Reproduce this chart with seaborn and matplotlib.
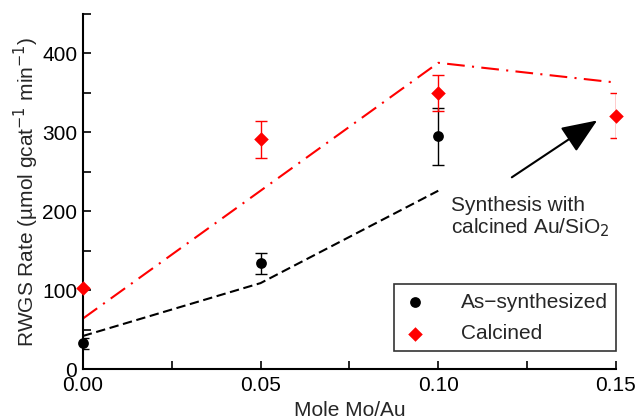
import matplotlib
matplotlib.use("Agg")
import matplotlib.pyplot as plt
import seaborn as sns
import pandas as pd
import numpy as np

# data
mole = [0.00, 0.05, 0.10]
as_synth = [33, 134, 295]
as_synth_err = [7, 13.5, 36]
mole_calc = [0.00, 0.05, 0.10, 0.15]
calcined = [103, 291, 350, 321]
calcined_err = [0, 23, 23, 28.5]
fit_as_x = [0.00, 0.05, 0.10]
fit_as_y = [42, 109, 226]
fit_calc_x = [0.00, 0.05, 0.10, 0.15]
fit_calc_y = [64, 226, 388, 363]

sns.set_style("ticks")
plt.rcParams['font.family'] = ['Liberation Sans', 'DejaVu Sans']

fig = plt.figure(figsize=(6.37, 4.2), dpi=100)
ax = fig.add_axes([0.130, 0.121, 0.837, 0.846])

sns.lineplot(x=fit_as_x, y=fit_as_y, ax=ax, color='black', lw=1.5,
             linestyle=(0, (4.5, 2.2)), legend=False)
sns.lineplot(x=fit_calc_x, y=fit_calc_y, ax=ax, color='red', lw=1.5,
             linestyle=(0, (8.5, 3.5, 1, 3.5)), legend=False)

ax.errorbar(mole, as_synth, yerr=as_synth_err, fmt='none', ecolor='black',
            elinewidth=1, capsize=4, capthick=1, zorder=3)
ax.errorbar(mole_calc, calcined, yerr=calcined_err, fmt='none', ecolor='red',
            elinewidth=1, capsize=4, capthick=1, zorder=3)

df1 = pd.DataFrame({'x': mole, 'y': as_synth})
df2 = pd.DataFrame({'x': mole_calc, 'y': calcined})
sns.scatterplot(data=df1, x='x', y='y', ax=ax, color='black', marker='o', s=60,
                edgecolor='black', linewidth=0, label='As\u2212synthesized', zorder=4, clip_on=False)
sns.scatterplot(data=df2, x='x', y='y', ax=ax, color='red', marker='D', s=55,
                edgecolor='red', linewidth=0, label='Calcined', zorder=4, clip_on=False)

ax.set_xlim(0, 0.15)
ax.set_ylim(0, 450)
ax.set_xticks([0, 0.05, 0.10, 0.15])
ax.set_xticklabels(['0.00', '0.05', '0.10', '0.15'])
ax.set_xticks([0.025, 0.075, 0.125], minor=True)
ax.set_yticks([0, 100, 200, 300, 400])
ax.set_yticks([50, 150, 250, 350, 450], minor=True)
ax.tick_params(axis='both', which='both', direction='in', length=6, width=1.2,
               labelsize=15, colors='black')
ax.tick_params(axis='y', which='both', pad=4)
ax.tick_params(axis='x', which='both', pad=5)
for s in ['top', 'right']:
    ax.spines[s].set_visible(False)
for s in ['left', 'bottom']:
    ax.spines[s].set_linewidth(1.5)
    ax.spines[s].set_color('black')

ax.set_xlabel('Mole Mo/Au', fontsize=15, labelpad=4)
ax.set_ylabel('RWGS Rate (\u00b5mol gcat$^{-1}$ min$^{-1}$)', fontsize=15, labelpad=1)

leg = ax.legend(loc='lower right', bbox_to_anchor=(1.0, 0.05), fontsize=15,
                frameon=True, fancybox=False, edgecolor='black',
                handletextpad=1.6, borderpad=0.4, labelspacing=0.6, handlelength=1.2,
                borderaxespad=0.0)
leg.get_frame().set_linewidth(1.2)

ax.annotate('', xy=(0.1447, 315), xytext=(0.1207, 243),
            arrowprops=dict(arrowstyle='-|>,head_length=1.1,head_width=0.45',
                            mutation_scale=20, color='black', lw=1.5, shrinkA=0, shrinkB=0))
ax.text(0.1035, 219, 'Synthesis with\ncalcined Au/SiO$_2$', fontsize=15, va='top', ha='left',
        linespacing=1.05)

fig.savefig('out.png', dpi=100)
